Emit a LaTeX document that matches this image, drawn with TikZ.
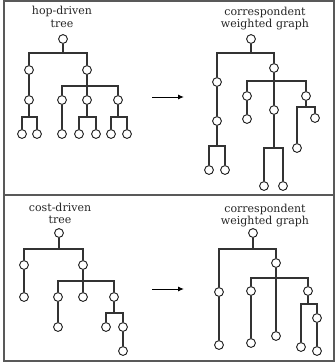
\documentclass[tikz,border=0pt]{standalone}
\usepackage{fontspec}
\setmainfont{DejaVu Serif}
\usetikzlibrary{arrows.meta}
\begin{document}
\begin{tikzpicture}[x=1pt,y=-1pt,
  vert/.style={circle,draw=black!90,fill=white,line width=0.9pt,minimum size=8.8pt,inner sep=0pt},
  link/.style={draw=black!80,line width=1.1pt},
  title/.style={anchor=base,inner sep=0pt,font=\fontsize{11}{12}\selectfont,text=black!85},
  frame/.style={draw=black!65,line width=1.3pt},
  flow/.style={draw=black,line width=1pt,-{Latex[length=6pt,width=5pt]}}]
\useasboundingbox (0,0) rectangle (336,362);
% frame
\draw[frame] (4,1) rectangle (334,361);
\draw[frame] (4,195) -- (334,195);
% titles
\node[title] (tA) at (62,14) {hop-driven};
\node[title] (tB) at (62,27) {tree};
\node[title] (gA) at (265,15) {correspondent};
\node[title] (gB) at (265,27) {weighted graph};
\node[title] (cA) at (60,211) {cost-driven};
\node[title] (cB) at (60,223) {tree};
\node[title] (hA) at (265,212) {correspondent};
\node[title] (hB) at (265,224) {weighted graph};
% arrows
\coordinate (a1s) at (152,97); \coordinate (a1e) at (184,97);
\coordinate (a2s) at (152,289); \coordinate (a2e) at (184,289);
\draw[flow] (a1s) -- (a1e);
\draw[flow] (a2s) -- (a2e);
% ---------- vertices ----------
\foreach \n/\p in {t0/{63,39},t1/{29,70},t2/{87,70},t11/{29,100},t111/{22,134},t112/{37,134},
  t21/{62,100},t22/{87,100},t23/{118,100},t211/{62,134},t221/{79,134},t222/{96,134},t231/{111,134},t232/{127,134},
  g0/{251,39},g1/{217,82},g2/{274,68},g11/{217,121},g111/{209,170},g112/{225,170},
  g21/{247,96},g22/{274,110},g23/{306,96},g211/{247,119},g221/{264,186},g222/{283,186},g231/{297,148},g232/{315,118},
  c0/{59,233},c1/{24,265},c2/{83,265},c11/{24,297},c21/{58,297},c22/{83,297},c23/{114,297},
  c211/{58,327},c231/{106,327},c232/{123,327},c2321/{123,351},
  h0/{253,233},h1/{219,292},h2/{276,263},h11/{219,345},h21/{251,291},h22/{276,336},h23/{308,291},
  h211/{251,343},h231/{301,347},h232/{317,318},h2321/{317,351}}
  \node[vert] (\n) at (\p) {};
% ---------- bar junctions ----------
\foreach \n/\p in {tb0/{63,53},tb11/{29,117},tb2/{87,86},tb22/{87,117},tb23/{118,117},
  gb0/{251,53},gb11/{217,146},gb2/{274,81},gb22/{274,148},gb23/{306,107},
  cb0/{59,249},cb2/{83,281},cb23/{114,313},
  hb0/{253,249},hb2/{276,278},hb23/{308,304}}
  \coordinate (\n) at (\p);
% ---------- top tree ----------
\draw[link] (t0) -- (tb0) -| (t1);
\draw[link] (tb0) -| (t2);
\draw[link] (t1) -- (t11);
\draw[link] (t11) -- (tb11) -| (t111);
\draw[link] (tb11) -| (t112);
\draw[link] (t2) -- (tb2) -| (t21);
\draw[link] (tb2) -| (t23);
\draw[link] (tb2) -- (t22);
\draw[link] (t21) -- (t211);
\draw[link] (t22) -- (tb22) -| (t221);
\draw[link] (tb22) -| (t222);
\draw[link] (t23) -- (tb23) -| (t231);
\draw[link] (tb23) -| (t232);
% ---------- top graph ----------
\draw[link] (g0) -- (gb0) -| (g1);
\draw[link] (gb0) -| (g2);
\draw[link] (g1) -- (g11);
\draw[link] (g11) -- (gb11) -| (g111);
\draw[link] (gb11) -| (g112);
\draw[link] (g2) -- (gb2) -| (g21);
\draw[link] (gb2) -| (g23);
\draw[link] (gb2) -- (g22);
\draw[link] (g21) -- (g211);
\draw[link] (g22) -- (gb22) -| (g221);
\draw[link] (gb22) -| (g222);
\draw[link] (g23) -- (gb23) -| (g231);
\draw[link] (gb23) -| (g232);
% ---------- bottom tree ----------
\draw[link] (c0) -- (cb0) -| (c1);
\draw[link] (cb0) -| (c2);
\draw[link] (c1) -- (c11);
\draw[link] (c2) -- (cb2) -| (c21);
\draw[link] (cb2) -| (c23);
\draw[link] (cb2) -- (c22);
\draw[link] (c21) -- (c211);
\draw[link] (c23) -- (cb23) -| (c231);
\draw[link] (cb23) -| (c232);
\draw[link] (c232) -- (c2321);
% ---------- bottom graph ----------
\draw[link] (h0) -- (hb0) -| (h1);
\draw[link] (hb0) -| (h2);
\draw[link] (h1) -- (h11);
\draw[link] (h2) -- (hb2) -| (h21);
\draw[link] (hb2) -| (h23);
\draw[link] (hb2) -- (h22);
\draw[link] (h21) -- (h211);
\draw[link] (h23) -- (hb23) -| (h231);
\draw[link] (hb23) -| (h232);
\draw[link] (h232) -- (h2321);
\end{tikzpicture}
\end{document}
